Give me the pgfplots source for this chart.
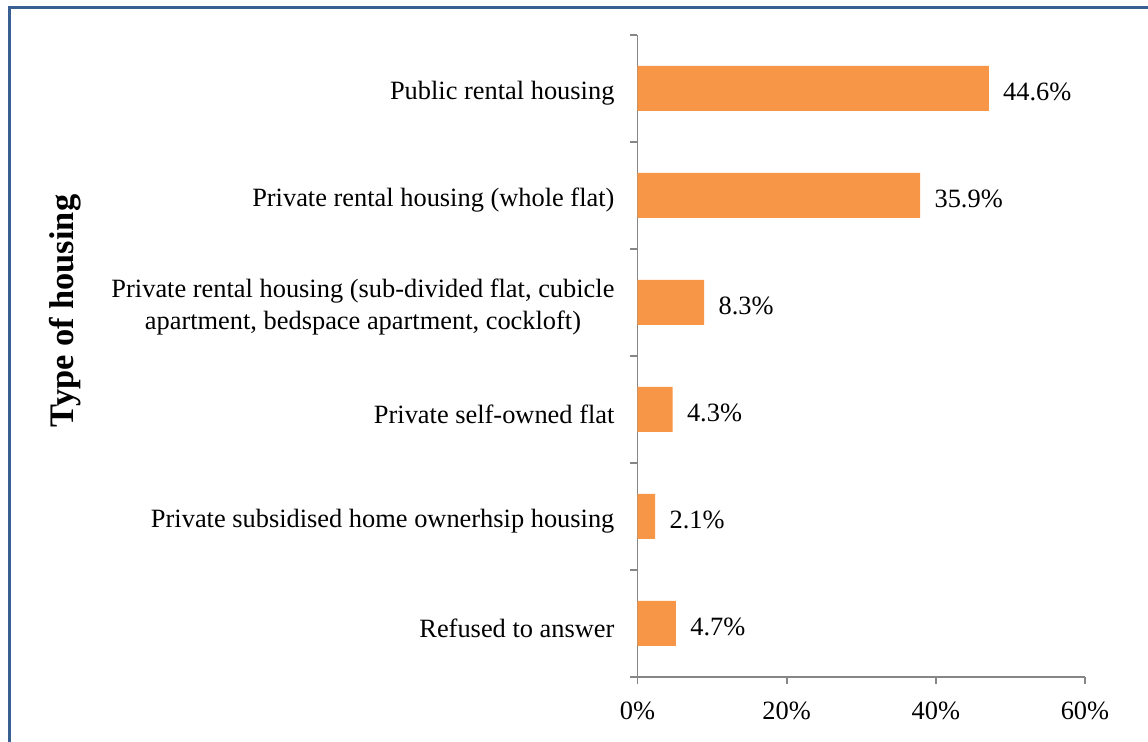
\documentclass[border=0pt]{standalone}
\usepackage{pgfplots}
\pgfplotsset{compat=1.18}
\usepackage{fontspec}
\setmainfont{Liberation Serif}

\definecolor{barOrange}{HTML}{F79646}
\definecolor{axisGray}{HTML}{868686}
\definecolor{frameBlue}{HTML}{3A5F93}

\begin{document}
\begin{tikzpicture}
  % chart frame (runs off the right and bottom edges)
  \draw[frameBlue, line width=1.3pt] (4.8pt,-20pt) rectangle (620pt,367.2pt);

  \begin{axis}[
    at={(318.75pt,32.5pt)}, anchor=south west,
    scale only axis, width=223.75pt, height=321pt,
    xmin=0, xmax=60, ymin=-0.5, ymax=5.5,
    axis x line*=bottom, axis y line*=left,
    axis line style={axisGray, line width=0.9pt},
    tick align=outside, major tick length=3.5pt, minor tick length=3.5pt,
    tick style={axisGray, line width=0.9pt},
    xtick={0,20,40,60},
    xticklabel={\pgfmathprintnumber{\tick}\%},
    /pgf/number format/assume math mode=true,
    x tick label style={font=\fontsize{13.2}{16}\selectfont, yshift=-5.5pt},
    ytick={0,1,2,3,4,5},
    yticklabels={Refused to answer,
                 Private subsidised home ownerhsip housing,
                 Private self-owned flat,
                 {Private rental housing (sub-divided flat, cubicle\\apartment, bedspace apartment, cockloft)},
                 Private rental housing (whole flat),
                 Public rental housing},
    y tick label style={font=\fontsize{13.2}{16}\selectfont, align=center,
      xshift=-4.5pt, yshift=-2.5pt},
    major y tick style={draw=none},
    minor ytick={-0.5,0.5,1.5,2.5,3.5,4.5,5.5},
    xbar, bar width=22.5pt,
    nodes near coords, point meta=explicit symbolic,
    every node near coord/.append style={font=\fontsize{13.2}{16}\selectfont,
      anchor=west, inner sep=0pt, xshift=7pt, yshift=-1.5pt, text=black},
    clip=false,
  ]
    \addplot[fill=barOrange, draw=none] coordinates {
      (47.1,5) [44.6\%]
      (37.9,4) [35.9\%]
      (8.95,3) [8.3\%]
      (4.71,2) [4.3\%]
      (2.38,1) [2.1\%]
      (5.16,0) [4.7\%]
    };
  \end{axis}

  \node[rotate=90, anchor=base, font=\fontsize{17.2}{20}\selectfont\bfseries]
    at (36.5pt,215.5pt) {Type of housing};

  \pgfresetboundingbox
  \useasboundingbox (0,0) rectangle (574pt,371pt);
\end{tikzpicture}
\end{document}
